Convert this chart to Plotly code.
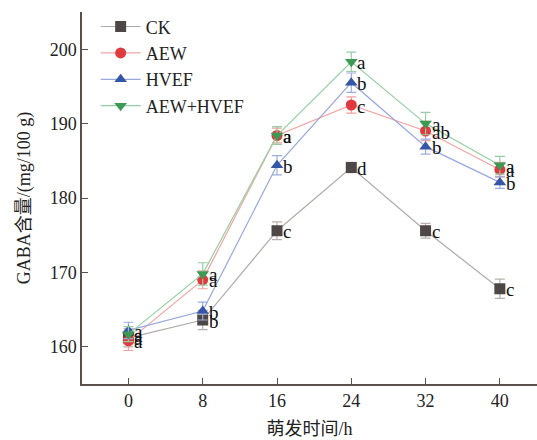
import plotly.graph_objects as go

hours = [0, 8, 16, 24, 32, 40]
series_names = ["CK", "AEW", "HVEF", "AEW+HVEF"]
ck = [161.2, 163.6, 175.6, 184.1, 175.6, 167.8]
aew = [160.8, 169.0, 188.4, 192.5, 189.0, 183.8]
hvef = [162.2, 164.8, 184.4, 195.5, 186.9, 182.1]
aew_hvef = [161.7, 169.8, 188.4, 198.3, 190.0, 184.4]
ck_err = [1.2, 1.3, 1.2, 0.7, 1.0, 1.3]
aew_err = [1.3, 1.2, 1.0, 1.1, 1.3, 1.0]
hvef_err = [1.1, 1.2, 1.3, 1.3, 1.0, 0.8]
aew_hvef_err = [1.0, 1.5, 1.2, 1.3, 1.5, 1.2]
ck_letters = ["a", "b", "c", "d", "c", "c"]
aew_letters = ["a", "a", "a", "c", "ab", "a"]
hvef_letters = ["a", "b", "b", "b", "b", "b"]
aew_hvef_letters = ["a", "a", "a", "a", "a", "a"]

values = [ck, aew, hvef, aew_hvef]
errors = [ck_err, aew_err, hvef_err, aew_hvef_err]
letters = [ck_letters, aew_letters, hvef_letters, aew_hvef_letters]
line_colors = ["#b3a9a9", "#f5a3a3", "#98a8dc", "#95cfa2"]
marker_colors = ["#4e4747", "#e0393f", "#3556a6", "#3c9a55"]
err_colors = ["#b8b0b0", "#f0a0a0", "#9aaedc", "#98cca4"]
symbols = ["square", "circle", "triangle-up", "triangle-down"]

font_family = "Liberation Serif, Times New Roman, Noto Sans CJK SC, serif"
fig = go.Figure()
for name, y, e, lab, lc, mc, ec, sym in zip(series_names, values, errors, letters,
                                            line_colors, marker_colors, err_colors, symbols):
    fig.add_trace(go.Scatter(
        x=hours, y=y, name=name, mode="lines+markers",
        line=dict(color=lc, width=1.2),
        marker=dict(symbol=sym, size=11, color=mc, line=dict(width=0)),
        error_y=dict(type="data", array=e, color=ec, thickness=1.2, width=5),
    ))
    for xv, yv, t in zip(hours, y, lab):
        fig.add_annotation(x=xv, y=yv, text=t, showarrow=False, xanchor="left",
                           yanchor="middle", xshift=4, yshift=-1,
                           font=dict(family=font_family, size=19, color="#111111"))

axis_color = "#5a504c"
fig.update_layout(
    width=537, height=440,
    margin=dict(l=82, r=0, t=12, b=56),
    paper_bgcolor="white", plot_bgcolor="white",
    font=dict(family=font_family, size=18, color="#222222"),
    showlegend=True,
    legend=dict(x=0.03, y=1.01, xanchor="left", yanchor="top",
                bgcolor="rgba(0,0,0,0)", font=dict(size=18, family=font_family),
                tracegroupgap=0, itemwidth=40),
    xaxis=dict(range=[-5, 44], tickvals=hours, ticks="inside", ticklen=6,
               tickcolor=axis_color, showline=True, linecolor=axis_color, linewidth=1.5,
               showgrid=False, zeroline=False, mirror=False,
               title=dict(text="萌发时间/h", standoff=12, font=dict(size=18))),
    yaxis=dict(range=[155, 205], tickvals=[160, 170, 180, 190, 200], ticks="inside",
               ticklen=6, tickcolor=axis_color, showline=True, linecolor=axis_color,
               linewidth=1.5, showgrid=False, zeroline=False,
               title=dict(text="GABA含量/(mg/100 g)", standoff=14, font=dict(size=18))),
)
fig.write_html("out.html")
